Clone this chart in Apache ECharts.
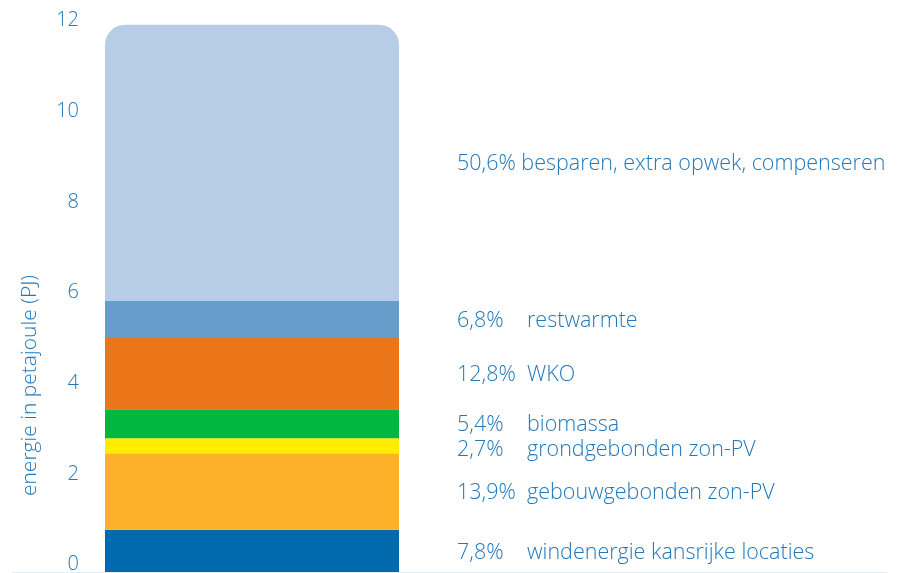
<!DOCTYPE html>
<html>
<head>
<meta charset="utf-8">
<script src="https://cdn.jsdelivr.net/npm/echarts@6/dist/echarts.min.js"></script>
<style>html,body{margin:0;padding:0;background:#fff}#c{width:901px;height:573px}</style>
</head>
<body>
<div id="c"></div>
<script>
const categories = ['totaal'];
const seriesNames = ['windenergie kansrijke locaties', 'gebouwgebonden zon-PV', 'grondgebonden zon-PV', 'biomassa', 'WKO', 'restwarmte', 'besparen, extra opwek, compenseren'];
const percentages = ['7,8%', '13,9%', '2,7%', '5,4%', '12,8%', '6,8%', '50,6%'];
const values = [0.93, 1.69, 0.33, 0.64, 1.57, 0.82, 6.09];
const colors = ['#0068AC', '#FDB02A', '#FFEC00', '#00B83D', '#EB7519', '#679DCB', '#B7CCE7'];
const yTicks = [0, 2, 4, 6, 8, 10, 12];
const axisTitle = 'energie in petajoule (PJ)';

const textColor = '#2079BC';
const font = 'Open Sans';
const fw = 300;

const series = seriesNames.map((name, i) => {
  const last = i === seriesNames.length - 1;
  const pw = last ? undefined : 70;
  return {
    type: 'bar',
    name: name,
    stack: 'total',
    xAxisIndex: 0,
    yAxisIndex: 0,
    barWidth: '100%',
    clip: false,
    itemStyle: { color: colors[i], borderRadius: last ? [20, 20, 0, 0] : 0 },
    label: {
      show: true,
      position: 'right',
      distance: 58,
      offset: name === 'grondgebonden zon-PV' ? [0, 4.5] : [0, 1.5],
      formatter: () => last ? '{p|' + percentages[i] + ' }{n|' + name + '}' : '{p|' + percentages[i] + '}{n|' + name + '}',
      rich: {
        p: { width: pw, fontSize: 21.5, fontFamily: font, fontWeight: fw, color: textColor },
        n: { fontSize: 21.5, fontFamily: font, fontWeight: fw, color: textColor }
      }
    },
    data: [values[i]]
  };
});

const chart = echarts.init(document.getElementById('c'));
chart.setOption({
  animation: false,
  grid: [
    { left: 105, right: 502, top: 28, bottom: 1, containLabel: false, outerBoundsMode: 'none' },
    { left: 12, right: 14, top: 200, bottom: 1, containLabel: false, outerBoundsMode: 'none' }
  ],
  xAxis: [
    { type: 'category', gridIndex: 0, data: categories, show: false },
    { type: 'value', gridIndex: 1, axisLine: { show: true, lineStyle: { color: '#E6EDF5', width: 1 } },
      axisTick: { show: false }, axisLabel: { show: false }, splitLine: { show: false } }
  ],
  yAxis: [
    {
      type: 'value', gridIndex: 0, min: 0, max: 12, interval: 2,
      axisLine: { show: false }, axisTick: { show: false }, splitLine: { show: false },
      axisLabel: {
        margin: 26, fontSize: 20, fontFamily: font, fontWeight: fw, color: textColor,
        verticalAlign: 'bottom', lineHeight: 15,
        formatter: v => yTicks.includes(v) ? String(v) : ''
      },
      name: axisTitle, nameLocation: 'middle', nameRotate: 90, nameGap: 64,
      nameTextStyle: { fontSize: 21, fontFamily: font, fontWeight: fw, color: textColor, padding: [0, 171, 0, 0] }
    },
    { type: 'value', gridIndex: 1, show: false }
  ],
  series: series
});
</script>
</body>
</html>
